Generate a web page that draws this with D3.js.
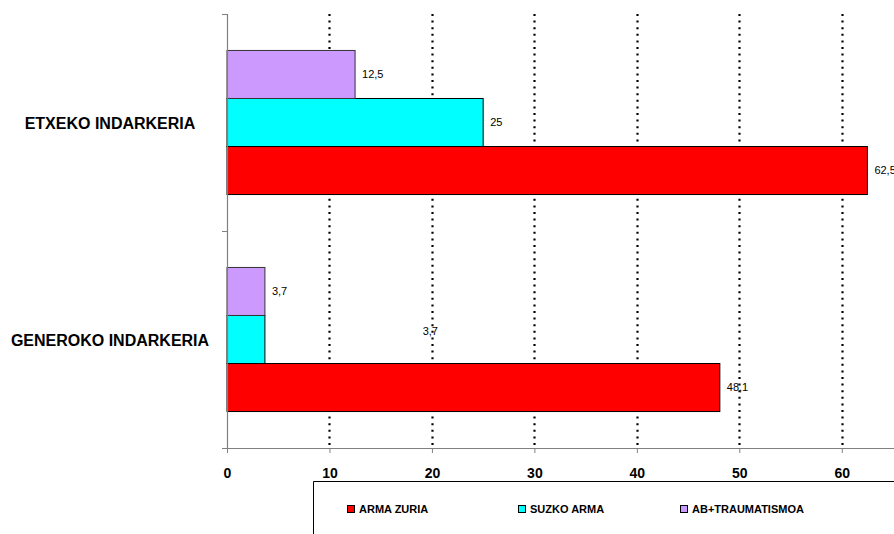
<!DOCTYPE html>
<html><head><meta charset="utf-8">
<script src="https://cdn.jsdelivr.net/npm/d3@7"></script>
<style>body{margin:0;background:#fff}svg{display:block}text{font-family:"Liberation Sans",Arial,sans-serif}.b{font-weight:700}</style>
</head><body><svg id="c" width="894" height="534"></svg>
<script>
const categories = ["ETXEKO INDARKERIA", "GENEROKO INDARKERIA"];
const seriesNames = ["ARMA ZURIA", "SUZKO ARMA", "AB+TRAUMATISMOA"];
const seriesColors = ["#FF0000", "#00FFFF", "#CC99FF"];
const armaZuria = [62.5, 48.1];
const suzkoArma = [25, 3.7];
const abTraumatismoa = [12.5, 3.7];
const valueLabels = [["62,5", "48,1"], ["25", "3,7"], ["12,5", "3,7"]];
const xTicks = [0, 10, 20, 30, 40, 50, 60];

const values = [armaZuria, suzkoArma, abTraumatismoa];
const svg = d3.select("#c");

const x = d3.scaleLinear().domain([0, 65]).range([227, 893]);
const y0 = d3.scaleBand().domain(categories).range([14, 448]);
const bw = y0.bandwidth();
const y1 = d3.scaleBand().domain([2, 1, 0]).range([bw * 0.168, bw * 0.832]);

svg.append("g").selectAll("line").data(xTicks.slice(1)).join("line")
  .attr("x1", d => Math.round(x(d)) + 0.5).attr("x2", d => Math.round(x(d)) + 0.5)
  .attr("y1", 14).attr("y2", 448)
  .attr("stroke", "#000").attr("stroke-width", 2.2)
  .attr("stroke-dasharray", "2,4.6");

const groups = svg.append("g").selectAll("g").data(categories).join("g")
  .attr("transform", d => `translate(0,${y0(d)})`);
groups.each(function(cat, ci) {
  const g = d3.select(this);
  [0, 1, 2].forEach(si => {
    g.append("rect")
      .attr("x", x(0)).attr("y", y1(si))
      .attr("width", x(values[si][ci]) - x(0)).attr("height", y1.bandwidth())
      .attr("fill", seriesColors[si]).attr("stroke", si === 2 ? "#333" : "#000").attr("stroke-width", 1);
  });
});

groups.each(function(cat, ci) {
  const g = d3.select(this);
  [0, 1, 2].forEach(si => {
    let lx = x(values[si][ci]) + 7;
    let ly = y1(si) + y1.bandwidth() / 2;
    if (ci === 1 && si === 1) { lx = x(19.1); ly -= 8; }
    g.append("text").attr("x", lx).attr("y", ly).attr("dy", "0.35em")
      .attr("font-size", 11).attr("fill", "#000")
      .text(valueLabels[si][ci]);
  });
});

svg.append("line").attr("x1", 227.5).attr("x2", 227.5).attr("y1", 14).attr("y2", 448)
  .attr("stroke", "#808080").attr("stroke-width", 1.2);
svg.append("g").selectAll("line").data([14, 231, 448]).join("line")
  .attr("x1", 222).attr("x2", 227).attr("y1", d => d + 0.5).attr("y2", d => d + 0.5)
  .attr("stroke", "#808080");
svg.append("g").selectAll("text").data(categories).join("text")
  .attr("class", "b")
  .attr("x", 110).attr("y", d => y0(d) + bw / 2 + 0.5)
  .attr("dy", "0.35em").attr("text-anchor", "middle")
  .attr("font-size", 16)
  .text(d => d);

const xAxis = svg.append("g").attr("transform", "translate(0,448)")
  .call(d3.axisBottom(x).tickValues(xTicks).tickSize(5).tickPadding(15).tickFormat(d3.format("d")));
xAxis.select(".domain").attr("d", "M222,0.5H894").attr("stroke", "#808080").attr("stroke-width", 1.2);
xAxis.selectAll(".tick line").attr("stroke", "#808080");
xAxis.selectAll("text").attr("class", "b").attr("font-size", 14).attr("fill", "#000")
  .style("font-family", "'Liberation Sans',Arial,sans-serif");

svg.append("path").attr("d", "M313.5,534V481.5H894").attr("fill", "none").attr("stroke", "#000").attr("stroke-width", 1);
const legX = [347, 518, 680];
const leg = svg.append("g").selectAll("g").data(seriesNames).join("g")
  .attr("transform", (d, i) => `translate(${legX[i]},505)`);
leg.append("rect").attr("x", 0.5).attr("y", 0.5).attr("width", 7).attr("height", 7)
  .attr("fill", (d, i) => seriesColors[i]).attr("stroke", "#000");
leg.append("text").attr("class", "b").attr("x", 12).attr("y", 4).attr("dy", "0.35em")
  .attr("font-size", 11).text(d => d);
</script></body></html>
